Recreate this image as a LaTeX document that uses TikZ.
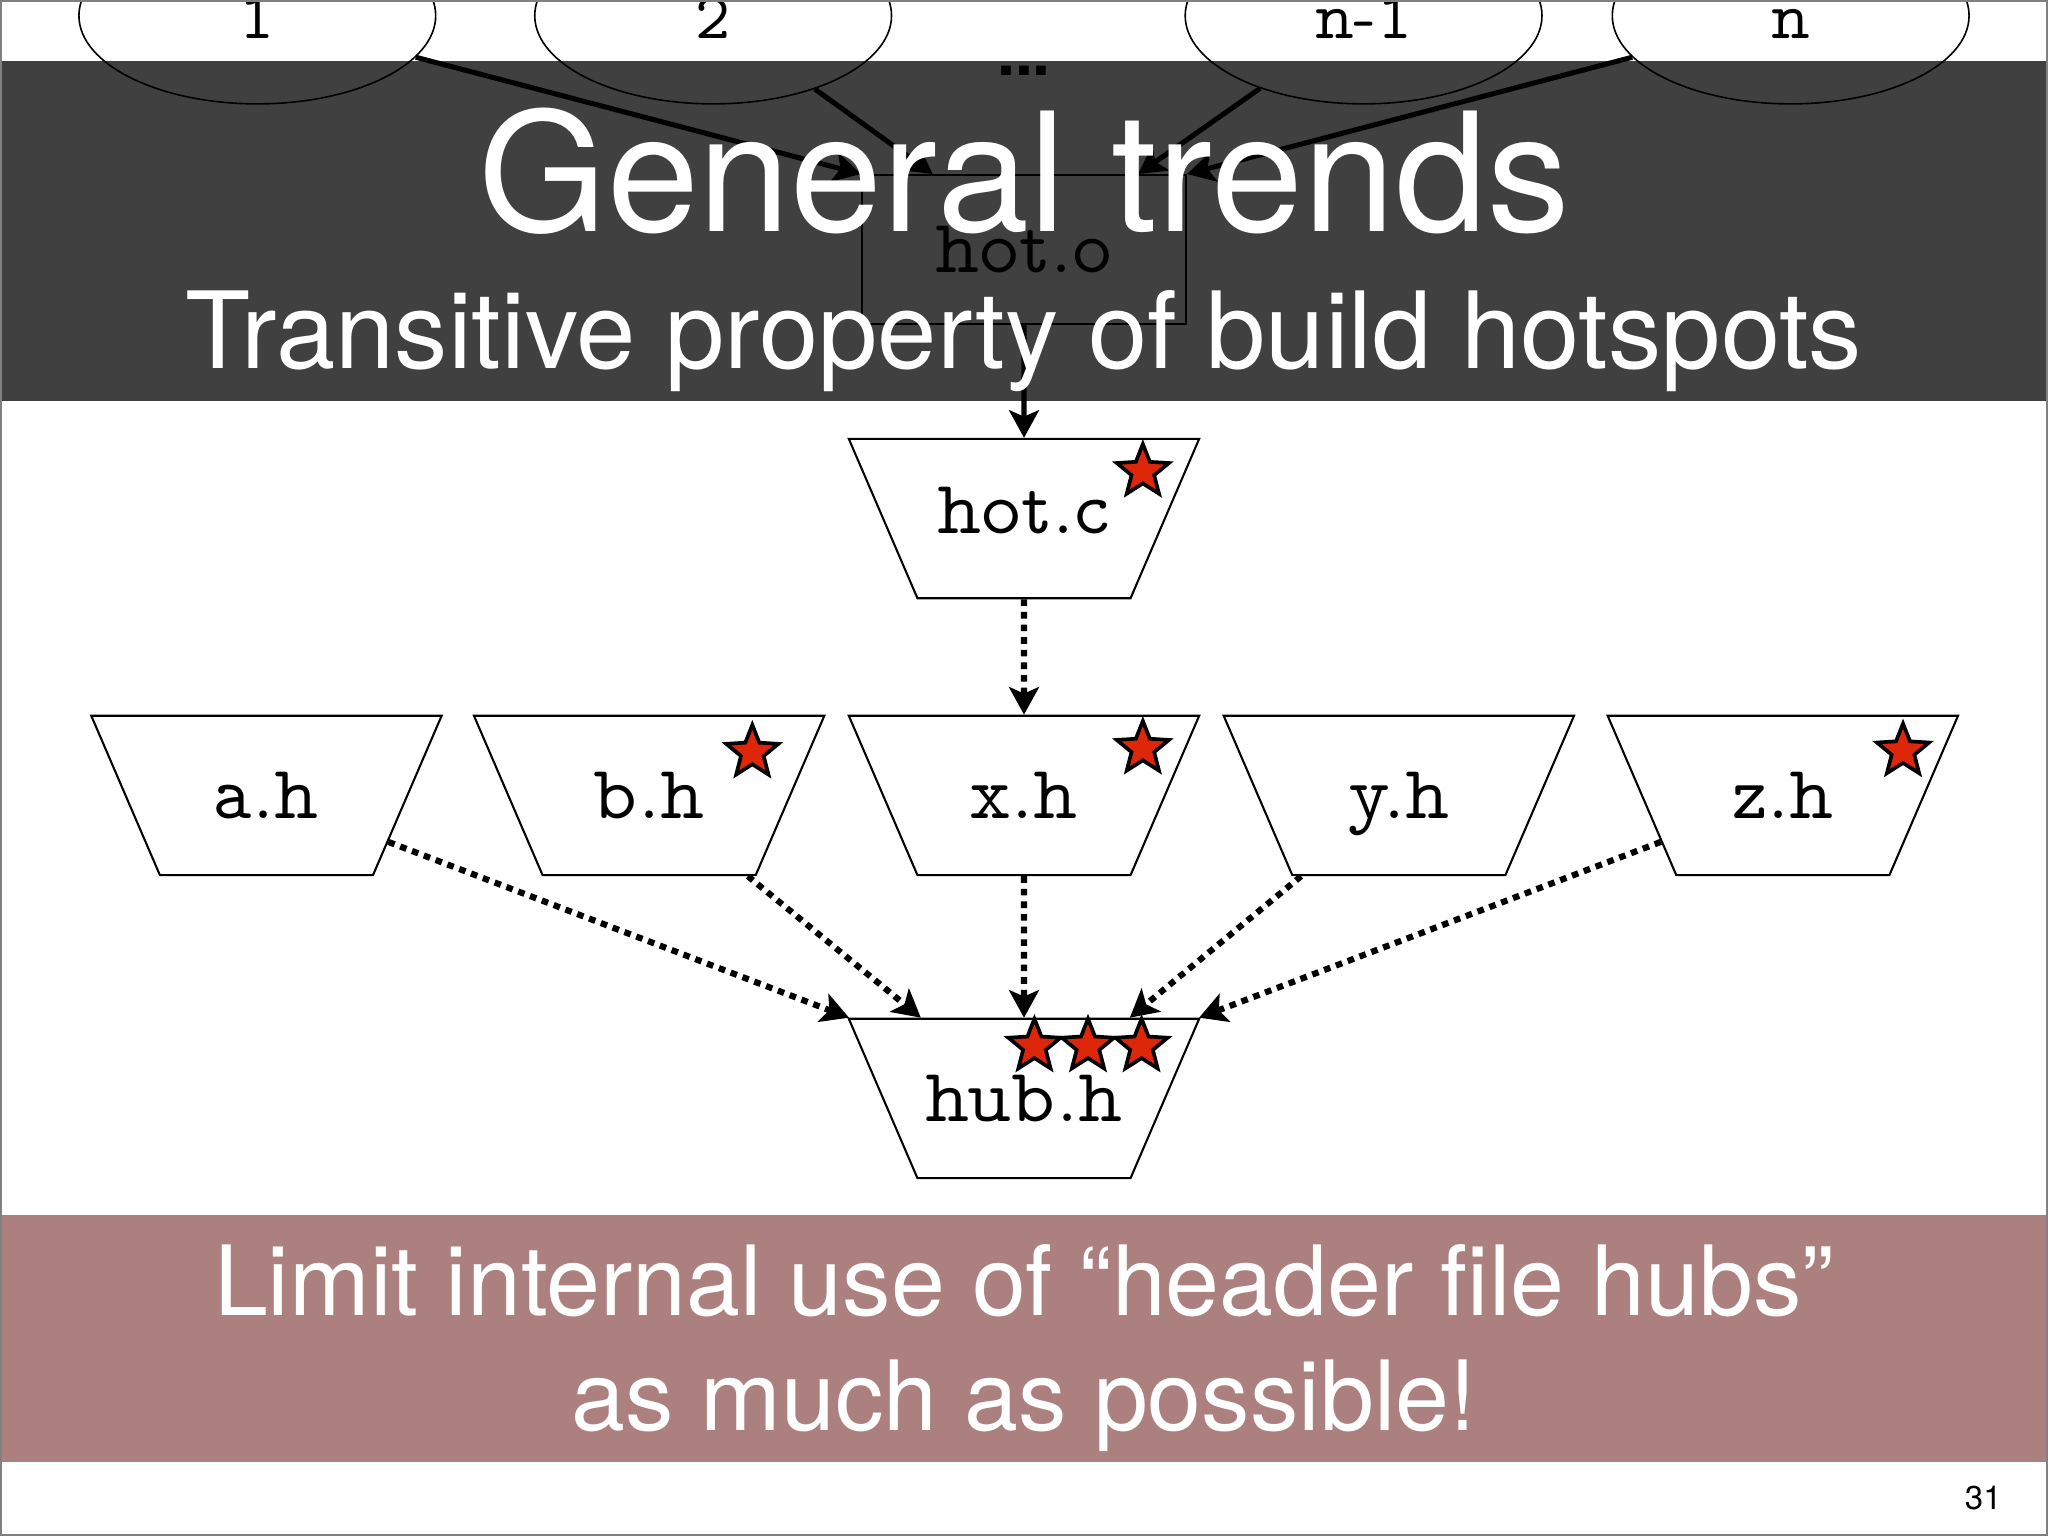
\documentclass[tikz,border=0pt]{standalone}
\usepackage{fontspec}
\setsansfont{TeX Gyre Heros}
\newfontfamily\codefamily{lmmonoprop10-regular.otf}
\usetikzlibrary{shapes.geometric,arrows.meta,calc}

\definecolor{bandgray}{RGB}{64,64,64}
\definecolor{bandrose}{RGB}{173,128,128}
\definecolor{starred}{RGB}{222,38,10}

\newcommand{\codefont}{\codefamily\fontsize{16.5}{17}\selectfont}
\newcommand{\srcfont}{\codefamily\fontsize{14.5}{15}\selectfont}

\begin{document}
\begin{tikzpicture}[x=0.01cm, y=-0.01cm,
    hdr/.style={trapezium, trapezium angle=66.7, shape border rotate=180,
      draw, line width=0.45pt, fill=white, inner xsep=0pt, inner ysep=12.35pt,
      text width=46.4pt, align=center, text height=10pt, text depth=0pt,
      font=\codefont},
    src/.style={ellipse, draw, line width=0.35pt, minimum width=2.73cm,
      minimum height=1.35cm, inner sep=0pt, text height=10pt,
      text depth=0pt, font=\srcfont},
    obj/.style={rectangle, draw, line width=0.4pt, minimum width=2.48cm,
      minimum height=1.14cm, inner sep=0pt, text height=10pt,
      text depth=0pt, font=\codefont},
    hotstar/.style={star, star points=5, star point ratio=2.3, draw,
      line width=0.8pt, fill=starred, minimum size=0.42cm, inner sep=0pt},
    inc/.style={-{Stealth[length=6pt,width=6.5pt,inset=1.4pt]}, line width=1.1pt},
    incdot/.style={inc, line width=1.35pt, dash pattern=on 1.45pt off 1.3pt}]

        \useasboundingbox (0,0) rectangle (1568,1176);

        % slide bands
        \fill[bandgray] (0,47) rectangle (1568,307);
        \fill[bandrose] (0,930) rectangle (1568,1119);

        \begin{scope}[every node/.style={src}]
          \node (s1)  at (197,12)  {1};
          \node (s2)  at (546,12)  {2};
          \node (sn1) at (1044,12) {n-1};
          \node (sn)  at (1371,12) {n};
        \end{scope}
        \node[anchor=base, font=\sffamily\bfseries\fontsize{14}{14}\selectfont] (dots) at (784,58) {...};

        \node[obj] (hoto) at (784,191) {hot.o};

        \begin{scope}[every node/.style={hdr}]
          \node[text depth=3.5pt, inner ysep=10.6pt] (hotc) at (784,397) {hot.c};
          \node (ah)  at (204,609)  {a.h};
          \node (bh)  at (497,609)  {b.h};
          \node (xh)  at (784,609)  {x.h};
          \node (yh)  at (1071,609) {y.h};
          \node (zh)  at (1365,609) {z.h};
          \node (hub) at (784,841)  {hub.h};
        \end{scope}

        \begin{scope}[every node/.style={hotstar}]
          \node (st1) at (875,361) {};
          \node (st2) at (576,576) {};
          \node (st3) at (875,573) {};
          \node (st4) at (1457,575) {};
          \node (st5) at (792,801) {};
          \node (st6) at (833,801) {};
          \node (st7) at (874,801) {};
        \end{scope}

        \begin{scope}[every edge/.style={draw, inc}]
          \path (s1)  edge (hoto.north west);
          \path (s2)  edge ($(hoto.north west)!0.22!(hoto.north east)$);
          \path (sn1) edge ($(hoto.north west)!0.85!(hoto.north east)$);
          \path (sn)  edge (hoto.north east);
          \path (hoto) edge (hotc);
        \end{scope}

        \begin{scope}[every edge/.style={draw, incdot}]
          \path (hotc) edge (xh);
          \path (ah) edge ($(hub.north)+(-134,0)$);
          \path (bh) edge ($(hub.north)+(-79,0)$);
          \path (xh) edge (hub);
          \path (yh) edge ($(hub.north)+(81,0)$);
          \path (zh) edge ($(hub.north)+(134,0)$);
        \end{scope}

        % slide texts
        \begin{scope}[every node/.style={anchor=base, text=white}]
          \node[font=\sffamily\fontsize{36}{36}\selectfont] (title) at (784,177) {General trends};
          \node[font=\sffamily\fontsize{23.2}{24}\selectfont] (subtitle) at (784,282) {Transitive property of build hotspots};
          \node[font=\sffamily\fontsize{21.1}{22}\selectfont] (advice1) at (784,1007) {Limit internal use of “header file hubs”};
          \node[font=\sffamily\fontsize{21.1}{22}\selectfont] (advice2) at (784,1095) {as much as possible!};
        \end{scope}
        \node[anchor=base east, font=\sffamily\fontsize{7.2}{8}\selectfont] (page) at (1545,1156) {31};

        \draw[gray, line width=0.5pt] (0.8,0.8) rectangle (1567.2,1175.2);

      \end{tikzpicture}
\end{document}
